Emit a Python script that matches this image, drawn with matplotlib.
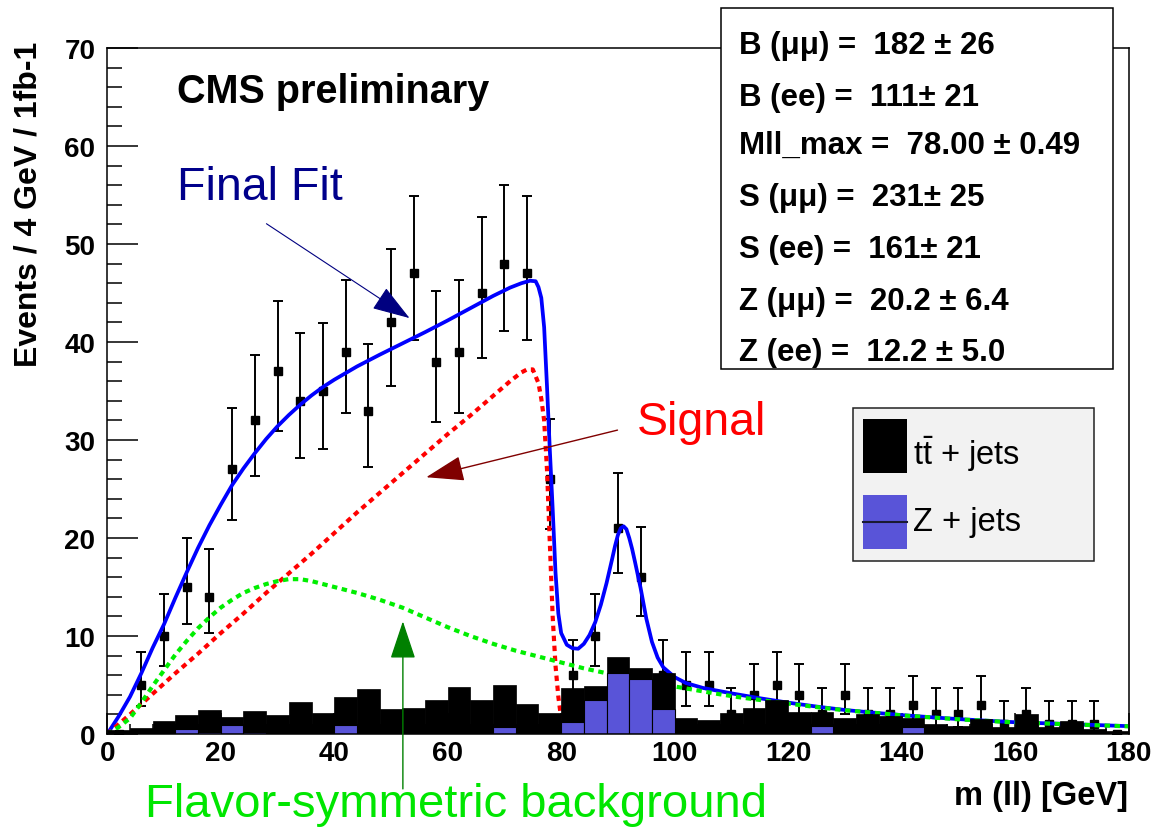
import numpy as np
import matplotlib
matplotlib.use('Agg')
import matplotlib.pyplot as plt
from matplotlib.patches import Rectangle
from matplotlib.lines import Line2D
from matplotlib.ticker import MultipleLocator

plt.rcParams['font.family'] = 'Liberation Sans'
plt.rcParams['mathtext.fontset'] = 'custom'
plt.rcParams['mathtext.rm'] = 'Liberation Sans'
plt.rcParams['mathtext.it'] = 'Liberation Sans:italic'
plt.rcParams['mathtext.bf'] = 'Liberation Sans:bold'

# 4 GeV bins, 0-180 GeV
bin_edges = np.arange(0, 184, 4)
bin_centers = bin_edges[:-1] + 2

# observed events per bin
data_counts = [0, 5, 10, 15, 14, 27, 32, 37, 34, 35,
               39, 33, 42, 47, 38, 39, 45, 48, 47, 26,
               6, 10, 21, 16, 6, 5, 5, 2, 4, 5,
               4, 2, 4, 2, 2, 3, 2, 2, 3, 1,
               2, 1, 1, 1, 0]

# simulated backgrounds per bin
zjets = [0, 0, 0, 0.55, 0.25, 0.9, 0.25, 0, 0, 0,
         0.9, 0, 0, 0, 0, 0, 0, 0.75, 0, 0,
         1.25, 3.45, 6.25, 5.6, 2.55, 0, 0, 0, 0, 0,
         0, 0.85, 0, 0, 0, 0.75, 0, 0, 0, 0,
         0, 0, 0, 0, 0]
ttjets = [0.4, 0.6, 1.35, 1.4, 2.2, 0.8, 2.05, 1.95, 3.3, 2.15,
          2.9, 4.6, 2.55, 2.7, 3.5, 4.8, 3.5, 4.25, 3.05, 2.15,
          3.4, 1.45, 1.65, 1.15, 3.7, 1.6, 1.4, 2.1, 2.7, 3.5,
          2.25, 1.35, 1.6, 2.0, 1.85, 0.85, 1.0, 0.85, 1.5, 0.7,
          2.0, 0.7, 1.35, 0.5, 0.3]

# fit curves
fit_mass = [0, 2, 4, 6, 8, 10, 12, 14, 16, 18, 20, 22, 24, 26, 28, 30, 32, 34,
            36, 38, 40, 44, 48, 52, 56, 60, 64, 68, 71, 73, 74.5, 75.5, 76,
            76.5, 77, 77.5, 78, 78.5, 79, 79.5, 80, 81, 82, 83, 84, 85, 86, 87,
            88, 89, 89.5, 90, 90.5, 91, 91.5, 92, 92.5, 93, 94, 95, 96, 97, 98,
            100, 102, 105, 110, 115, 120, 125, 130, 135, 140, 145, 150, 155,
            160, 165, 170, 175, 180]
fit_total = [0, 1.8, 3.8, 6.2, 8.8, 11.2, 13.9, 16.5, 19.0, 21.3, 23.4, 25.4,
             27.1, 28.65, 30.1, 31.4, 32.55, 33.6, 34.55, 35.4, 36.15, 37.5,
             38.7, 39.85, 41.0, 42.2, 43.45, 44.7, 45.55, 46.0, 46.25, 46.2,
             45.6, 44.5, 41.5, 35.5, 29.0, 23.0, 16.5, 12.3, 10.3, 9.1, 8.75,
             8.7, 9.2, 10.1, 11.4, 13.2, 15.4, 17.9, 19.2, 20.3, 21.0, 21.2,
             20.9, 20.0, 18.9, 17.6, 14.9, 11.8, 9.4, 7.8, 6.8, 5.8, 5.2, 4.7,
             4.15, 3.65, 3.2, 2.8, 2.45, 2.18, 1.93, 1.72, 1.52, 1.36, 1.2,
             1.1, 1.0, 0.9, 0.8]

signal_mass = [0, 4, 8, 12, 16, 20, 24, 28, 32, 36, 40, 44, 48, 52, 56, 60, 64,
               68, 71, 73, 74, 75, 76, 76.5, 77, 77.5, 78, 78.5, 79, 79.5, 80,
               80.5, 81, 82, 180]
signal = [0, 2.0, 4.1, 6.2, 8.2, 10.3, 12.3, 14.4, 16.4, 18.4, 20.5, 22.6,
          24.6, 26.6, 28.6, 30.6, 32.5, 34.5, 36.0, 36.9, 37.2, 37.2, 35.8,
          34.2, 32.0, 27.0, 19.5, 12.0, 7.0, 3.8, 1.6, 0.6, 0.2, 0, 0]

flavsym_mass = [0, 2, 4, 6, 8, 10, 12, 14, 16, 18, 20, 22, 24, 26, 28, 30, 32,
                34, 36, 38, 40, 44, 48, 52, 56, 60, 64, 68, 72, 76, 80, 84, 88,
                92, 96, 100, 104, 108, 112, 116, 120, 125, 130, 135, 140, 145,
                150, 155, 160, 165, 170, 175, 180]
flavsym = [0, 0.7, 1.6, 3.2, 4.9, 6.5, 8.1, 9.5, 10.8, 11.9, 12.9, 13.7, 14.4,
           14.9, 15.3, 15.6, 15.8, 15.8, 15.6, 15.3, 15.0, 14.4, 13.7, 12.9,
           11.9, 10.9, 10.0, 9.2, 8.5, 7.9, 7.3, 6.7, 6.2, 5.7, 5.3, 4.85,
           4.45, 4.05, 3.7, 3.4, 3.1, 2.75, 2.42, 2.17, 1.9, 1.7, 1.5, 1.34,
           1.18, 1.08, 0.98, 0.88, 0.78]

fit_lines = ['B (\u03bc\u03bc) =  182 \u00b1 26',
             'B (ee) =  111\u00b1 21',
             'Mll_max =  78.00 \u00b1 0.49',
             'S (\u03bc\u03bc) =  231\u00b1 25',
             'S (ee) =  161\u00b1 21',
             'Z (\u03bc\u03bc) =  20.2 \u00b1 6.4',
             'Z (ee) =  12.2 \u00b1 5.0']

W, H = 1155, 829


def fig_xy(px, py):
    return px / W, 1 - py / H


# Poisson (Gehrels) error bars on the counts
n = np.array(data_counts, dtype=float)
err_hi = np.where(n > 0, np.sqrt(n + 0.75) + 1, 0)
safe = np.where(n > 0, n, 1)
err_lo = np.where(n > 0, n - n * (1 - 1 / (9 * safe) - 1 / (3 * np.sqrt(safe))) ** 3, 0)

fig = plt.figure(figsize=(W / 100, H / 100), dpi=100)
ax = fig.add_axes([107.3 / W, 1 - 735 / H, (1128.5 - 107.3) / W, (735 - 49) / H])

ax.errorbar(bin_centers, data_counts, yerr=[err_lo, err_hi], fmt='s',
            color='black', ms=5.8, elinewidth=1.4, capsize=3.6, capthick=1.4,
            zorder=2)

ax.plot(fit_mass, fit_total, color='#0000ff', lw=2.7, zorder=3)
ax.plot(signal_mass, signal, color='#ff0000', lw=3.0, dashes=(1.3, 1.1), zorder=3.2)
ax.plot(flavsym_mass, flavsym, color='#00ee00', lw=3.0, dashes=(1.3, 1.1), zorder=3.3)

# stacked MC: Z + jets at the bottom, ttbar on top
ax.bar(bin_edges[:-1], zjets, width=4, align='edge', color='#5954d8',
       edgecolor='black', linewidth=0.8, zorder=4)
ax.bar(bin_edges[:-1], ttjets, bottom=zjets, width=4, align='edge',
       color='black', edgecolor='black', linewidth=0.5, zorder=4)

ax.set_xlim(0, 180)
ax.set_ylim(0, 70)
ax.set_xticks(range(0, 181, 20), labels=[str(v) for v in range(0, 181, 20)],
              fontsize=20, fontweight='bold')
ax.set_yticks(range(0, 71, 10), labels=[str(v) for v in range(0, 71, 10)],
              fontsize=20, fontweight='bold')
ax.xaxis.set_minor_locator(MultipleLocator(4))
ax.yaxis.set_minor_locator(MultipleLocator(2))
ax.tick_params(axis='y', which='major', direction='in', length=22, width=1.1, pad=8.6)
ax.tick_params(axis='y', which='minor', direction='in', length=11, width=1.1)
ax.tick_params(axis='x', which='major', direction='in', length=14.8, width=1.1, pad=4)
ax.tick_params(axis='x', which='minor', direction='in', length=7.4, width=1.1)
for sp in ax.spines.values():
    sp.set_linewidth(1.1)
    sp.set_zorder(5)

fig.text(*fig_xy(29, 42), 'Events / 4 GeV / 1fb-1', rotation=90, ha='center',
         va='top', fontsize=23, fontweight='bold')
fig.text(*fig_xy(1128, 805), 'm (ll) [GeV]', ha='right', va='baseline',
         fontsize=23.5, fontweight='bold')

fig.text(*fig_xy(177, 103.3), 'CMS preliminary', fontsize=28.5,
         fontweight='bold', va='baseline')
fig.text(*fig_xy(177, 200), 'Final Fit', fontsize=33.5, color='#00008b',
         va='baseline')
fig.text(*fig_xy(637, 435), 'Signal', fontsize=33.5, color='#ff0000',
         va='baseline')
fig.text(*fig_xy(145, 817), 'Flavor-symmetric background', fontsize=34,
         color='#00e600', va='baseline')

# annotation arrows
arrow_specs = [((28.05, 52.07), (53.27, 42.44), '#000080', 0.8),
               ((89.93, 31.01), (56.21, 26.2), '#800000', 1.0),
               ((52.1, -5.6), (52.1, 11.5), '#008000', 1.0)]
for tail, tip, col, lw in arrow_specs:
    ax.annotate('', xy=tip, xytext=tail, xycoords='data', textcoords='data',
                annotation_clip=False, zorder=6,
                arrowprops=dict(arrowstyle='-|>,head_length=1.2,head_width=0.4',
                                mutation_scale=20, color=col, lw=lw,
                                shrinkA=0, shrinkB=0))

# fit result box
x0, y0 = fig_xy(720.7, 370)
x1, y1 = fig_xy(1113, 9.3)
fig.add_artist(Rectangle((x0, y0), x1 - x0, y1 - y0, transform=fig.transFigure,
                         facecolor='white', edgecolor='black', lw=1.1, zorder=10))
for line, base in zip(fit_lines, [54, 106, 154, 206, 258, 310, 361]):
    t = fig.text(*fig_xy(739, base), line, fontsize=22.5, fontweight='bold',
                 va='baseline')
    t.set_zorder(11)

# legend
x0, y0 = fig_xy(852.7, 561.7)
x1, y1 = fig_xy(1094, 409)
fig.add_artist(Rectangle((x0, y0), x1 - x0, y1 - y0, transform=fig.transFigure,
                         facecolor='#f2f2f2', edgecolor='#222222', lw=1.1, zorder=10))
for top, bot, col in [(420, 474, 'black'), (495.7, 550, '#5954d8')]:
    sx0, sy0 = fig_xy(862.7, bot)
    sx1, sy1 = fig_xy(906.7, top)
    fig.add_artist(Rectangle((sx0, sy0), sx1 - sx0, sy1 - sy0,
                             transform=fig.transFigure, facecolor=col,
                             edgecolor='none', zorder=11))
lx0, ly = fig_xy(862.7, 522.7)
lx1, _ = fig_xy(906.7, 522.7)
fig.add_artist(Line2D([lx0, lx1], [ly, ly], transform=fig.transFigure,
                      color='#1a1a33', lw=1.5, zorder=12))
t = fig.text(*fig_xy(913, 465), r't$\bar{\mathrm{t}}$ + jets', fontsize=23.5,
             va='baseline')
t.set_zorder(12)
t = fig.text(*fig_xy(913, 531), 'Z + jets', fontsize=23.5, va='baseline')
t.set_zorder(12)

fig.savefig('out.png', dpi=100)
